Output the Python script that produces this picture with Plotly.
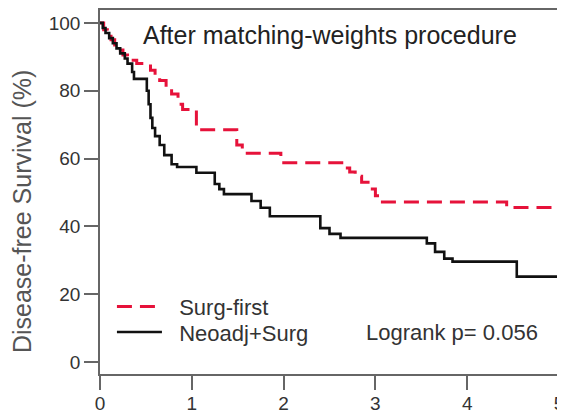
import plotly.graph_objects as go

# Kaplan-Meier step points (time in years, survival %)
surg_first_t = [0, 0.04, 0.08, 0.12, 0.16, 0.20, 0.25, 0.30, 0.40, 0.55, 0.60, 0.65, 0.72, 0.78,
                0.85, 0.90, 1.05, 1.49, 1.55, 1.97, 2.67, 2.72, 2.78, 2.85, 2.92, 3.00, 3.05, 4.43, 5.0]
surg_first_s = [100, 98, 96.5, 95, 93.5, 92, 90.5, 89, 88, 86, 84.5, 83, 81, 79,
                76, 74.5, 68.5, 64, 61.6, 58.8, 57.2, 56, 54.8, 53, 51, 49, 47.2, 45.6, 45.6]

neoadj_t = [0, 0.03, 0.06, 0.10, 0.14, 0.18, 0.22, 0.27, 0.30, 0.35, 0.37, 0.51, 0.53, 0.55, 0.57,
            0.60, 0.65, 0.70, 0.78, 0.84, 1.05, 1.25, 1.30, 1.35, 1.65, 1.75, 1.85, 2.40, 2.50,
            2.62, 3.56, 3.65, 3.75, 3.84, 4.54, 5.0]
neoadj_s = [100, 98.5, 97, 95.5, 94, 92.5, 91, 89.5, 88, 85.5, 83.5, 80, 76, 72, 69,
            66.6, 64, 61, 58.3, 57.5, 55.8, 52.5, 51, 49.5, 47.5, 45.5, 43, 39.5, 37.8,
            36.6, 35, 32.5, 30.5, 29.6, 25.2, 25.2]

x_ticks = [0, 1, 2, 3, 4, 5]
y_ticks = [0, 20, 40, 60, 80, 100]

title_text = "After matching-weights procedure"
ytitle_text = "Disease-free Survival (%)"
logrank_text = "Logrank p= 0.056"
series_names = ["Surg-first", "Neoadj+Surg"]

FONT = "Liberation Sans, Arial, sans-serif"
NB = "\u00a0\u00a0"

fig = go.Figure()
fig.add_trace(go.Scatter(
    x=surg_first_t, y=surg_first_s, mode="lines", line_shape="hv",
    name=NB + series_names[0], legend="legend",
    line=dict(color="#e6123a", width=3, dash="15px,8px"),
))
fig.add_trace(go.Scatter(
    x=neoadj_t, y=neoadj_s, mode="lines", line_shape="hv",
    name=NB + series_names[1], legend="legend2",
    line=dict(color="#111111", width=2.6),
))

leg_common = dict(
    xanchor="left", yanchor="middle",
    bgcolor="rgba(0,0,0,0)", borderwidth=0,
    font=dict(size=22, color="#333333", family=FONT),
    itemwidth=45,
)

fig.update_layout(
    width=557, height=409,
    margin=dict(l=92, r=6, t=0, b=43),
    paper_bgcolor="white", plot_bgcolor="white",
    font=dict(family=FONT, color="#333333"),
    showlegend=True,
    legend=dict(x=0.026, y=0.185, **leg_common),
    legend2=dict(x=0.026, y=0.115, **leg_common),
    xaxis=dict(
        range=[0, 5], tickvals=x_ticks, ticktext=[str(v) for v in x_ticks],
        showline=True, linecolor="#666666", linewidth=1.5, mirror=True,
        ticks="outside", ticklen=14, tickwidth=1.5, tickcolor="#666666",
        showgrid=False, zeroline=False, ticklabeloverflow="allow",
        ticklabelstandoff=-3,
        tickfont=dict(size=19, color="#333333", family=FONT),
    ),
    yaxis=dict(
        range=[-3.52, 103.8], tickvals=y_ticks, ticktext=[str(v) for v in y_ticks],
        showline=True, linecolor="#666666", linewidth=1.5, mirror=True,
        ticks="outside", ticklen=14, tickwidth=1.5, tickcolor="#666666",
        showgrid=False, zeroline=False,
        tickfont=dict(size=19, color="#333333", family=FONT),
    ),
    annotations=[
        dict(text=title_text, x=2.505, y=96.5, xref="x", yref="y",
             showarrow=False, xanchor="center", yanchor="middle",
             font=dict(size=25, color="#222222", family=FONT)),
        dict(text=logrank_text, x=4.79, y=8.8, xref="x", yref="y",
             showarrow=False, xanchor="right", yanchor="middle",
             font=dict(size=22, color="#333333", family=FONT)),
        dict(text=ytitle_text, x=-0.17, y=44.5, xref="paper", yref="y",
             showarrow=False, xanchor="center", yanchor="middle", textangle=-90,
             font=dict(size=25, color="#555555", family=FONT)),
    ],
)

fig.write_html("out.html")
